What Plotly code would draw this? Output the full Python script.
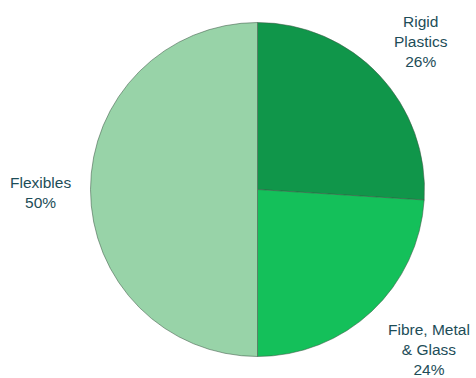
import plotly.graph_objects as go

categories = ["Rigid Plastics", "Fibre, Metal & Glass", "Flexibles"]
values = [26, 24, 50]
label_text = ["Rigid<br>Plastics<br>26%", "Fibre, Metal<br>& Glass<br>24%", "Flexibles<br>50%"]
colors = ["#10964A", "#14C05A", "#98D3A8"]

W, H = 476, 378
cx, cy_top, r = 257.5, 189.5, 167
cy = H - cy_top

fig = go.Figure(go.Pie(
    labels=categories,
    values=values,
    sort=False,
    direction="clockwise",
    rotation=0,
    marker=dict(colors=colors, line=dict(color="rgba(60,90,70,0.55)", width=1)),
    textinfo="none",
    hoverinfo="label+percent",
    showlegend=False,
    domain=dict(x=[(cx - r) / W, (cx + r) / W], y=[(cy - r) / H, (cy + r) / H]),
))

label_pos = [(421, 41), (429, 349), (40, 192)]
for txt, (x, y) in zip(label_text, label_pos):
    fig.add_annotation(
        x=x / W, y=1 - y / H, xref="paper", yref="paper",
        text=txt, showarrow=False, align="center",
        xanchor="center", yanchor="middle",
        font=dict(family="Liberation Sans, Arial, sans-serif", size=15.5, color="#1D4D58"),
    )

fig.update_layout(
    width=W, height=H,
    margin=dict(l=0, r=0, t=0, b=0),
    paper_bgcolor="white", plot_bgcolor="white",
)

fig.write_html("out.html")
